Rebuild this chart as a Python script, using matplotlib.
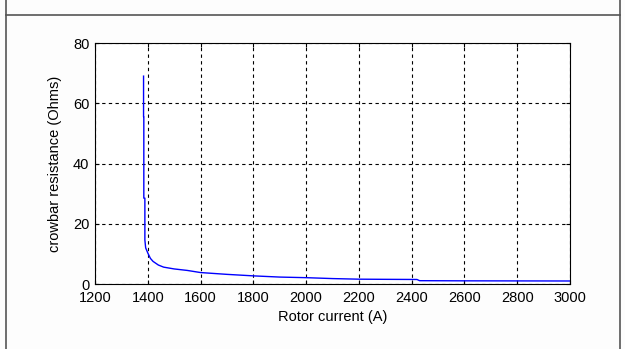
import numpy as np
import matplotlib.pyplot as plt
from matplotlib.lines import Line2D

# data
rotor_current = [1384, 1384, 1385, 1385, 1389, 1389, 1392, 1400, 1410, 1420,
                 1440, 1460, 1500, 1550, 1600, 1700, 1800, 1900, 2000, 2100,
                 2200, 2300, 2420, 2430, 2600, 3000]
crowbar_res = [69, 55.5, 55.5, 28.5, 28.5, 14.6, 12, 10.3, 8.5, 7.5,
               6.3, 5.6, 5.0, 4.5, 3.8, 3.2, 2.7, 2.3, 2.1, 1.8,
               1.6, 1.55, 1.5, 1.1, 1.05, 1.0]
xticks = np.arange(1200, 3001, 200)
yticks = [0, 20, 40, 60, 80]

plt.rcParams['font.family'] = ['Liberation Sans', 'DejaVu Sans']

W, H = 625, 349
fig = plt.figure(figsize=(W / 100, H / 100), dpi=100)
fig.patch.set_facecolor('#fdfdfd')

# axes box in pixels
left, right, top, bottom = 95, 570, 43, 284
ax = fig.add_axes([left / W, 1 - bottom / H, (right - left) / W, (bottom - top) / H])
ax.set_facecolor('white')

ax.plot(rotor_current, crowbar_res, color='#0000ff', lw=1.0)

ax.set_xlim(1200, 3000)
ax.set_ylim(0, 80)
ax.set_xticks(xticks)
ax.set_yticks(yticks)
ax.tick_params(direction='in', length=3, labelsize=10.5, top=True, right=True)
ax.tick_params(axis='x', pad=5)
ax.tick_params(axis='y', pad=4)
ax.grid(True, color='black', linestyle=(0, (3, 3)), linewidth=0.8)
for s in ax.spines.values():
    s.set_linewidth(0.8)

ax.set_xlabel('Rotor current (A)', fontsize=10.5, labelpad=4)
ax.set_ylabel('crowbar resistance (Ohms)', fontsize=10.5, labelpad=8)

# outer frame of the figure
frame_col = '#555555'
fig.add_artist(Line2D([6 / W, 6 / W], [0, 1], color=frame_col, lw=1.2))
fig.add_artist(Line2D([620 / W, 620 / W], [0, 1], color=frame_col, lw=1.2))
fig.add_artist(Line2D([6 / W, 620 / W], [1 - 15 / H, 1 - 15 / H], color=frame_col, lw=1.2))

fig.savefig('out.png', dpi=100)
